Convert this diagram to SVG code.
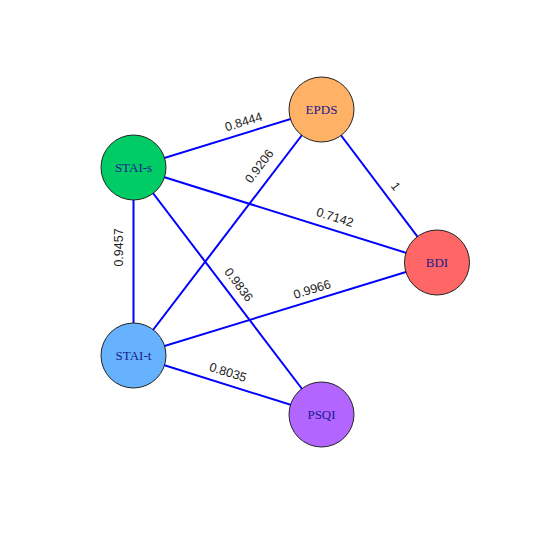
<svg xmlns="http://www.w3.org/2000/svg" width="540" height="540" viewBox="0 0 540 540">
<style>
.e{stroke:#0000ff;stroke-width:2;fill:none}
.n{stroke:#222;stroke-width:1}
.nt{font-family:"Liberation Serif",serif;font-size:13px;fill:#1a1a8c;text-anchor:middle}
.lt{font-family:"Liberation Sans",Arial,sans-serif;font-size:12.5px;fill:#222;text-anchor:middle}
</style>
<rect width="540" height="540" fill="#fff"/>
<g id="connectors">
<line class="e" x1="133.5" y1="167.5" x2="321.5" y2="109.5"/>
<line class="e" x1="133.5" y1="167.5" x2="437" y2="262.5"/>
<line class="e" x1="133.5" y1="167.5" x2="133.5" y2="355.5"/>
<line class="e" x1="133.5" y1="167.5" x2="321.5" y2="414.5"/>
<line class="e" x1="321.5" y1="109.5" x2="437" y2="262.5"/>
<line class="e" x1="321.5" y1="109.5" x2="133.5" y2="355.5"/>
<line class="e" x1="133.5" y1="355.5" x2="437" y2="262.5"/>
<line class="e" x1="133.5" y1="355.5" x2="321.5" y2="414.5"/>
<text class="lt" transform="translate(243.5,121.5) rotate(-17.1)" y="4.5">0.8444</text>
<text class="lt" transform="translate(335,217) rotate(17.4)" y="4.5">0.7142</text>
<text class="lt" transform="translate(118.5,247.5) rotate(-90)" y="4.5">0.9457</text>
<text class="lt" transform="translate(239,284.5) rotate(52.7)" y="4.5">0.9836</text>
<text class="lt" transform="translate(396,186) rotate(53)" y="4.5">1</text>
<text class="lt" transform="translate(259,166) rotate(-52.6)" y="4.5">0.9206</text>
<text class="lt" transform="translate(312,289) rotate(-17)" y="4.5">0.9966</text>
<text class="lt" transform="translate(228,372) rotate(17.4)" y="4.5">0.8035</text>
</g>
<g id="EPDS"><circle class="n" cx="321.5" cy="109.5" r="32.5" fill="#FFB266"/><text class="nt" x="321.5" y="114">EPDS</text></g>
<g id="STAI-s"><circle class="n" cx="133.5" cy="167.5" r="32.5" fill="#00CC66"/><text class="nt" x="133.5" y="172">STAI-s</text></g>
<g id="BDI"><circle class="n" cx="437" cy="262.5" r="32.5" fill="#FF6666"/><text class="nt" x="437" y="267">BDI</text></g>
<g id="STAI-t"><circle class="n" cx="133.5" cy="355.5" r="32.5" fill="#66B2FF"/><text class="nt" x="133.5" y="360">STAI-t</text></g>
<g id="PSQI"><circle class="n" cx="321.5" cy="414.5" r="32.5" fill="#B266FF"/><text class="nt" x="321.5" y="419">PSQI</text></g>
</svg>
